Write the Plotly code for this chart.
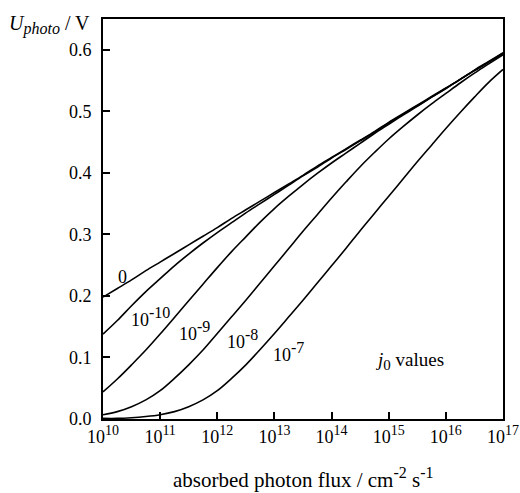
import math
import plotly.graph_objects as go

# absorbed photon flux (cm^-2 s^-1), quarter-decade grid
flux = [1e10, 1.78e10, 3.16e10, 5.62e10,
        1e11, 1.78e11, 3.16e11, 5.62e11,
        1e12, 1.78e12, 3.16e12, 5.62e12,
        1e13, 1.78e13, 3.16e13, 5.62e13,
        1e14, 1.78e14, 3.16e14, 5.62e14,
        1e15, 1.78e15, 3.16e15, 5.62e15,
        1e16, 1.78e16, 3.16e16, 5.62e16,
        1e17]

# photovoltage U_photo (V) for each j0 value
u_j0_0 = [0.198, 0.212, 0.226, 0.241, 0.255, 0.269, 0.283, 0.297, 0.311, 0.326,
          0.340, 0.354, 0.368, 0.382, 0.396, 0.411, 0.425, 0.439, 0.453, 0.467,
          0.482, 0.496, 0.510, 0.524, 0.538, 0.552, 0.567, 0.581, 0.595]
u_j0_1e10 = [0.138, 0.160, 0.184, 0.207, 0.228, 0.249, 0.268, 0.286, 0.303, 0.319,
             0.335, 0.350, 0.365, 0.380, 0.395, 0.409, 0.424, 0.438, 0.452, 0.466,
             0.481, 0.495, 0.509, 0.523, 0.537, 0.552, 0.566, 0.580, 0.595]
u_j0_1e9 = [0.044, 0.065, 0.088, 0.112, 0.138, 0.165, 0.192, 0.219, 0.246, 0.272,
            0.296, 0.320, 0.342, 0.362, 0.381, 0.399, 0.416, 0.432, 0.448, 0.464,
            0.479, 0.494, 0.508, 0.523, 0.537, 0.552, 0.566, 0.580, 0.594]
u_j0_1e8 = [0.007, 0.012, 0.020, 0.031, 0.046, 0.066, 0.088, 0.112, 0.139, 0.166,
            0.193, 0.221, 0.249, 0.277, 0.305, 0.332, 0.359, 0.385, 0.410, 0.433,
            0.455, 0.475, 0.494, 0.512, 0.529, 0.546, 0.562, 0.577, 0.592]
u_j0_1e7 = [0.001, 0.001, 0.002, 0.004, 0.007, 0.012, 0.020, 0.031, 0.046, 0.066,
            0.088, 0.113, 0.139, 0.166, 0.193, 0.221, 0.249, 0.277, 0.306, 0.334,
            0.362, 0.390, 0.418, 0.445, 0.472, 0.498, 0.523, 0.547, 0.568]

series = [u_j0_0, u_j0_1e10, u_j0_1e9, u_j0_1e8, u_j0_1e7]

# curve labels: j0 exponent text, x (flux), y (V, bottom of label)
label_base = ["0", "10", "10", "10", "10"]
label_exp = ["", "-10", "-9", "-8", "-7"]
label_x = [1.7e10, 2.9e10, 2.0e11, 1.34e12, 8.8e12]
label_y = [0.211, 0.142, 0.118, 0.105, 0.085]

x_tickvals = [1e10, 1e11, 1e12, 1e13, 1e14, 1e15, 1e16, 1e17]
x_tickexp = ["10", "11", "12", "13", "14", "15", "16", "17"]
y_tickvals = [0.0, 0.1, 0.2, 0.3, 0.4, 0.5, 0.6]

FONT = "Liberation Serif, Times New Roman, serif"


def sup(t, px):
    return "<sup><span style='font-size:%dpx'>%s</span></sup>" % (px, t) if t else ""


x_ticktext = ["10" + sup(e, 14) for e in x_tickexp]

fig = go.Figure()
for s in series:
    fig.add_trace(go.Scatter(x=flux, y=s, mode="lines",
                             line=dict(color="black", width=1.6, shape="spline", smoothing=1.0),
                             showlegend=False, hoverinfo="skip"))

for b, e, xv, yv in zip(label_base, label_exp, label_x, label_y):
    fig.add_annotation(x=math.log10(xv), y=yv, xref="x", yref="y", text=b + sup(e, 16),
                       showarrow=False, xanchor="left", yanchor="bottom",
                       font=dict(family=FONT, size=18, color="black"))

fig.add_annotation(x=math.log10(5.4e14), y=0.072, xref="x", yref="y",
                   text="<i>j</i><sub><span style='font-size:15px'>0</span></sub> values",
                   showarrow=False, xanchor="left", yanchor="bottom",
                   font=dict(family=FONT, size=19, color="black"))

fig.add_annotation(x=-0.027, y=0.985, xref="paper", yref="paper",
                   text="<i>U</i><sub><i><span style='font-size:16px'>photo</span></i></sub> / V",
                   showarrow=False, xanchor="right", yanchor="middle",
                   font=dict(family=FONT, size=20, color="black"))

fig.add_annotation(x=0.5, y=-0.148, xref="paper", yref="paper",
                   text="absorbed photon flux / cm" + sup("-2", 16) + " s" + sup("-1", 16),
                   showarrow=False, xanchor="center", yanchor="middle",
                   font=dict(family=FONT, size=21, color="black"))

fig.update_xaxes(type="log", range=[10, 17], tickvals=x_tickvals, ticktext=x_ticktext,
                 ticks="inside", ticklen=7, tickwidth=1.5, tickcolor="black",
                 showline=True, linewidth=2, linecolor="black", mirror=True,
                 showgrid=False, zeroline=False, automargin=False,
                 tickfont=dict(family=FONT, size=18, color="black"))
fig.update_yaxes(range=[0, 0.65], tickvals=y_tickvals, tickformat=".1f",
                 ticks="inside", ticklen=7, tickwidth=1.5, tickcolor="black",
                 showline=True, linewidth=2, linecolor="black", mirror=True,
                 showgrid=False, zeroline=False, ticklabelstandoff=6, automargin=False,
                 tickfont=dict(family=FONT, size=18, color="black"))

fig.update_layout(width=520, height=493, margin=dict(l=103, r=17, t=19, b=74),
                  plot_bgcolor="white", paper_bgcolor="white",
                  font=dict(family=FONT, color="black"))

fig.write_html("out.html", config={"displayModeBar": False},
               post_script="document.body.style.margin='0';document.body.style.overflow='hidden';")
